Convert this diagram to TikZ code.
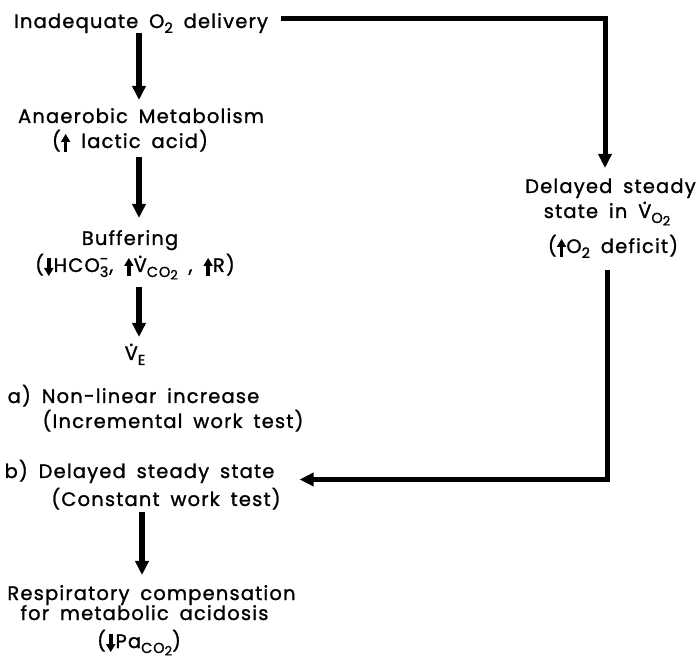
\documentclass[tikz,border=0pt]{standalone}
\usepackage{fontspec}
\setmainfont{Poppins}[LetterSpace=6,WordSpace=1.7,FakeBold=1.2]
\usetikzlibrary{arrows.meta,calc}

% subscripts: first level and second level (relative to the first)
\newcommand\sbsc[1]{\raisebox{-5pt}{\fontsize{14.5}{14.5}\selectfont #1}}
\newcommand\ssbsc[1]{\raisebox{-2.5pt}{\fontsize{13}{13}\selectfont #1}}
% V with a dot (flow rate)
\newcommand\Vdot{\ooalign{V\cr\hidewidth\raisebox{0.72em}{.}\hidewidth\cr}}
% subscript 3 with a minus sign above it
\newcommand\thrminus{\ooalign{\raisebox{-5pt}{\fontsize{14.5}{14.5}\selectfont 3}\cr\hidewidth\raisebox{7.5pt}{\fontsize{16}{16}\selectfont -}\hidewidth\cr}\kern1pt}
% small solid arrows used inside the labels
\newcommand\uparr{\tikz[baseline=4pt]{\fill (-1.8pt,0pt) rectangle (1.8pt,10pt);
  \fill (-4.8pt,10pt) -- (4.8pt,10pt) -- (0pt,18pt) -- cycle;}}
\newcommand\dnarr{\tikz[baseline=4pt]{\fill (-1.8pt,18pt) rectangle (1.8pt,8pt);
  \fill (-4.8pt,8pt) -- (4.8pt,8pt) -- (0pt,0pt) -- cycle;}}

\begin{document}
\begin{tikzpicture}[x=1pt,y=-1pt,
  lbl/.style={inner sep=0pt, anchor=base, font=\fontsize{19.5}{19.5}\selectfont},
  flow/.style={line width=6pt, -{Triangle[width=13pt,length=14pt]}},
  link/.style={line width=5pt, line join=miter, -{Triangle[width=13pt,length=14pt]}},
]
\useasboundingbox (0,0) rectangle (697,660);

% left column
\node[lbl] (t1) at (141,28) {Inadequate O\sbsc{2} delivery};
\node[lbl] (t2) at (141,123) {Anaerobic Metabolism};
\node[lbl] (t3) at (130,148) {(\uparr\ lactic acid)};
\node[lbl] (t4) at (130,245) {Buffering};
\node[lbl] (t5) at (135,272) {(\dnarr HCO\thrminus, \uparr\Vdot\sbsc{CO\ssbsc{2}} , \uparr R)};
\node[lbl] (t6) at (135,360) {\Vdot\sbsc{E}};
\node[lbl] (t7) at (133.5,403) {a) Non-linear increase};
\node[lbl] (t8) at (173,428) {(Incremental work test)};
\node[lbl] (t9) at (139.5,478) {b) Delayed steady state};
\node[lbl] (t10) at (166,506) {(Constant work test)};
\node[lbl] (t11) at (151.5,600) {Respiratory compensation};
\node[lbl] (t12) at (144.5,620) {for metabolic acidosis};
\node[lbl] (t13) at (139,648) {(\dnarr Pa\sbsc{CO\ssbsc{2}})};

% right column
\node[lbl] (r1) at (610.5,193) {Delayed steady};
\node[lbl] (r2) at (607,218) {state in \Vdot\sbsc{O\ssbsc{2}}};
\node[lbl] (r3) at (613,253) {(\uparr O\sbsc{2} deficit)};

% column axes for the vertical arrows
\coordinate (cl) at (139,0);
\coordinate (cb) at (142,0);
\coordinate (cr) at (605,0);
\coordinate (crb) at (607,0);

% main chain
\draw[flow] ($(t1.base -| cl)+(0,5)$) -- ($(t2.base -| cl)+(0,-23)$);
\draw[flow] ($(t3.base -| cl)+(0,9)$) -- ($(t4.base -| cl)+(0,-27)$);
\draw[flow] ($(t5.base -| cl)+(0,15)$) -- ($(t6.base -| cl)+(0,-23)$);
\draw[flow] ($(t10.base -| cb)+(0,6)$) -- ($(t11.base -| cb)+(0,-25)$);

% side branch
\coordinate (s1) at ($(t1.east)+(13,0)$);
\coordinate (s1y) at ($(t1.base)+(0,-9.5)$);
\coordinate (e1) at ($(r1.base -| cr)+(0,-25)$);
\draw[link] (s1 |- s1y) -| (e1);
\coordinate (s2) at ($(r3.base -| crb)+(0,17)$);
\coordinate (e2) at ($(t9.east)+(25,0)$);
\coordinate (e2y) at ($(t9.base)+(0,1.5)$);
\draw[link] (s2) |- (e2 |- e2y);
\end{tikzpicture}
\end{document}
